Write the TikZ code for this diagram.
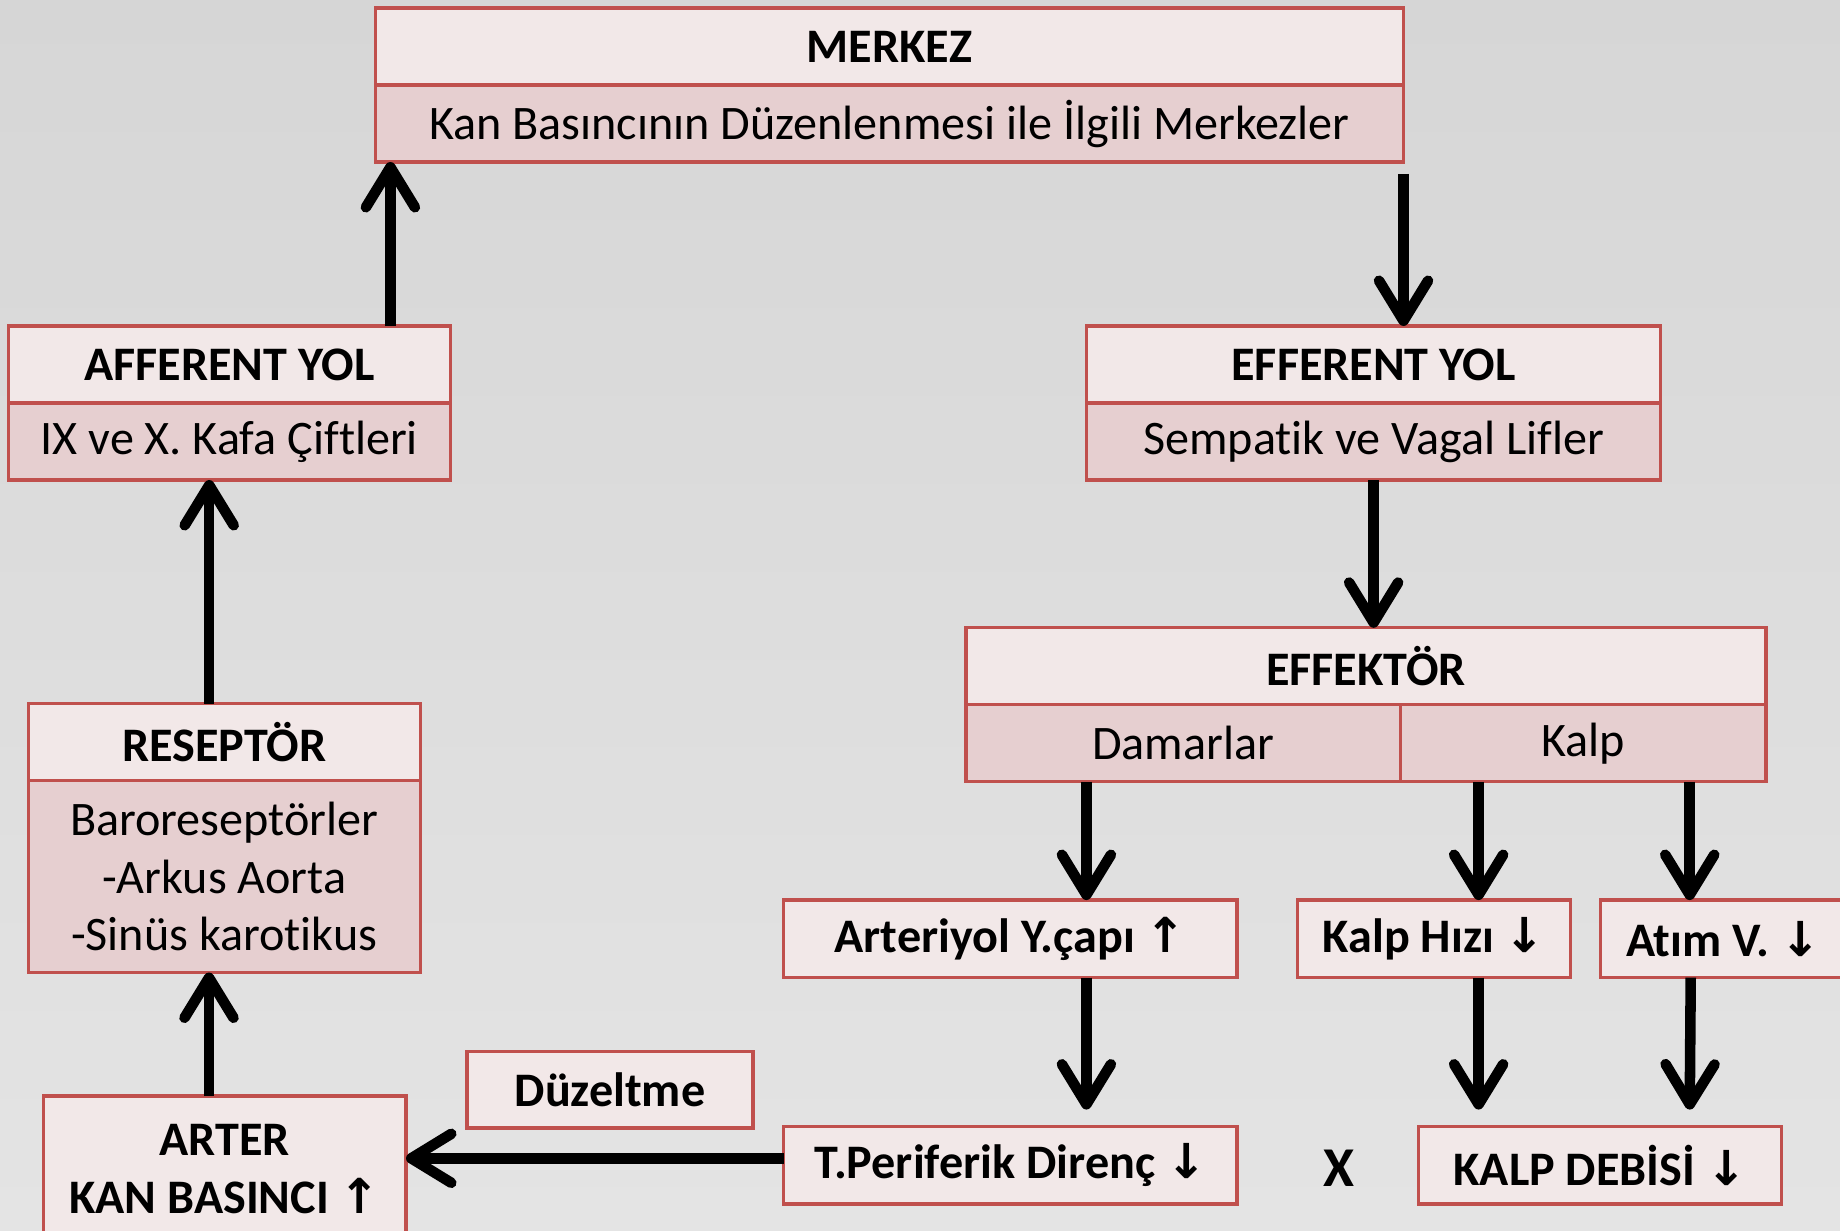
\documentclass[tikz,border=0pt]{standalone}
\usepackage{fontspec}
\setmainfont[Ligatures=NoCommon]{Carlito}
\newfontfamily\arrfont{DejaVu Sans}
\usetikzlibrary{arrows.meta,positioning}
\definecolor{headpink}{HTML}{F2E8E8}
\definecolor{bodypink}{HTML}{E6CFD0}
\definecolor{borderred}{HTML}{C0504D}
\definecolor{bgtop}{HTML}{D6D6D6}
\definecolor{bgmid}{HTML}{BFBFBF}
\definecolor{bgbot}{HTML}{E4E4E4}
\newcommand{\upar}{{\arrfont\bfseries ↑}}
\newcommand{\dnar}{{\arrfont\bfseries ↓}}
\tikzset{
  headbox/.style={
    rectangle, draw=borderred, line width=0.9pt, fill=headpink,
    minimum height=0.77cm, inner sep=0pt, outer sep=0pt, align=center,
    font=\fontsize{13.7}{16.4}\selectfont\bfseries
  },
  bodybox/.style={
    rectangle, draw=borderred, line width=0.9pt, fill=bodypink,
    minimum height=0.77cm, inner sep=0pt, outer sep=0pt, align=center,
    font=\fontsize{13.7}{16.4}\selectfont
  },
  arrow/.style={-{Straight Barb[length=4mm,width=4.9mm,round]}, line width=3pt, draw=black}
}

\begin{document}
\begin{tikzpicture}
\useasboundingbox (0,0) rectangle (18.4,-12.3);
\shade[top color=bgtop, middle color=bgmid, bottom color=bgbot] (0,0) rectangle (18.4,-12.3);
% merkez
\node[headbox, minimum width=10.28cm] (mrk) at (8.895,-0.465) {MERKEZ};
\node[bodybox, minimum width=10.28cm, below=0pt of mrk] (mrkb) {Kan Basıncının Düzenlenmesi ile İlgili Merkezler};
% afferent / efferent
\node[headbox, minimum width=4.42cm] (aff) at (2.294,-3.645) {AFFERENT YOL};
\node[bodybox, minimum width=4.42cm, below=0pt of aff] (affb) {IX ve X. Kafa Çiftleri};
\node[headbox, minimum width=5.74cm] (eff) at (13.736,-3.645) {EFFERENT YOL};
\node[bodybox, minimum width=5.74cm, below=0pt of eff] (effb) {Sempatik ve Vagal Lifler};
% reseptor
\node[headbox, minimum width=3.92cm] (res) at (2.242,-7.42) {RESEPTÖR};
\node[bodybox, minimum width=3.92cm, minimum height=1.92cm, below=0pt of res] (resb) {Baroreseptörler\\-Arkus Aorta\\-Sinüs karotikus};
% effektor
\node[headbox, minimum width=8.0cm] (effk) at (13.66,-6.663) {EFFEKTÖR};
\node[bodybox, minimum width=4.342cm, below=0pt of effk.south west, anchor=north west] (dam) {Damarlar};
\node[bodybox, minimum width=3.658cm, right=0pt of dam] (kalp) {Kalp};
% sonuclar
\node[headbox, minimum width=4.53cm, minimum height=0.775cm] (art) at (10.104,-9.388) {Arteriyol Y.çapı \upar};
\node[headbox, minimum width=2.723cm, minimum height=0.775cm] (kh) at (14.34,-9.388) {Kalp Hızı \dnar};
\node[headbox, minimum width=2.45cm, minimum height=0.775cm, anchor=west] (atim) at (16.007,-9.388) {Atım V. \dnar};
\node[headbox, minimum width=4.53cm, minimum height=0.775cm] (tper) at (10.104,-11.653) {T.Periferik Direnç \dnar};
\node[font=\fontsize{16}{18}\selectfont\bfseries] (carp) at (13.39,-11.68) {X};
\node[headbox, minimum width=3.625cm, minimum height=0.775cm] (kd) at (16.0,-11.653) {KALP DEBİSİ \dnar};
\node[headbox, minimum width=2.86cm, minimum height=0.765cm] (duz) at (6.10,-10.898) {Düzeltme};
\node[headbox, minimum width=3.626cm, minimum height=1.46cm] (arter) at (2.247,-11.69) {ARTER\\KAN BASINCI \upar};
% oklar
\draw[arrow] ([xshift=1.61cm]affb.north |- aff.north) -- ([xshift=1.61cm]aff.north |- mrkb.south);
\draw[arrow] ([yshift=-0.12cm]mrkb.south east) -- (mrkb.south east |- eff.north);
\draw[arrow] (effb.south) -- (effb.south |- effk.north);
\draw[arrow] ([xshift=-0.15cm]res.north) -- ([xshift=-0.15cm]res.north |- affb.south);
\draw[arrow] ([xshift=-0.157cm]arter.north) -- ([xshift=-0.157cm]arter.north |- resb.south);
\draw[arrow] ([xshift=0.76cm]art.north |- dam.south) -- ([xshift=0.76cm]art.north);
\draw[arrow] ([xshift=0.446cm]kh.north |- kalp.south) -- ([xshift=0.446cm]kh.north);
\draw[arrow] ([xshift=0.89cm]atim.north west |- kalp.south) -- ([xshift=0.89cm]atim.north west);
\draw[arrow] ([xshift=0.76cm]art.south) -- ([xshift=0.76cm,yshift=0.17cm]art.south |- tper.north);
\draw[arrow] ([xshift=0.446cm]kh.south) -- ([xshift=0.446cm,yshift=0.17cm]kh.south |- kd.north);
\draw[arrow] ([xshift=0.90cm]atim.south west) -- ([xshift=0.89cm,yshift=0.17cm]atim.south west |- kd.north);
\draw[arrow] ([yshift=0.07cm]tper.west) -- ([yshift=0.07cm]tper.west -| arter.east);
\end{tikzpicture}
\end{document}
